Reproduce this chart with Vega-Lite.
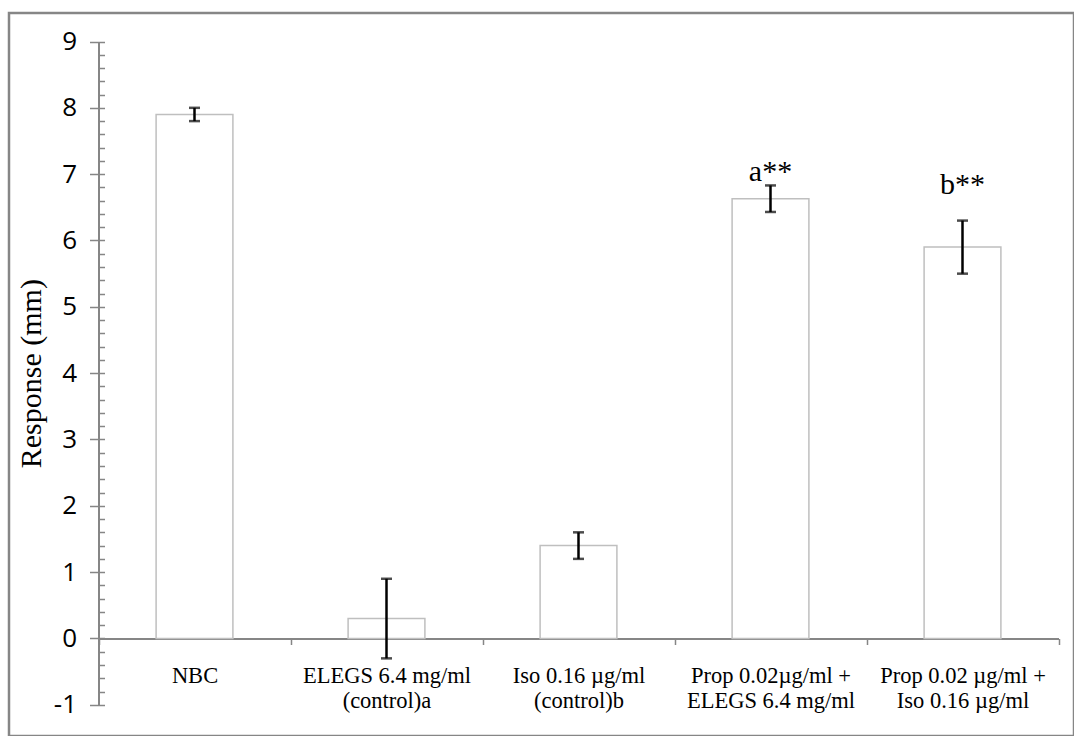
{
  "$schema": "https://vega.github.io/schema/vega-lite/v6.json",
  "autosize": {"type": "none"},
  "padding": {"left": 9, "top": 13, "right": 0, "bottom": 0},
  "width": 1065,
  "height": 723,
  "background": "white",
  "config": {"view": {"stroke": "#868686", "strokeWidth": 2.5}},
  "data": {
    "values": [
      {"group": "NBC", "mean": 7.9, "lo": 7.8, "hi": 8.0, "note": "", "note_y": null},
      {"group": "ELEGS 6.4 mg/ml|(control)a", "mean": 0.3, "lo": -0.3, "hi": 0.9, "note": "", "note_y": null},
      {"group": "Iso 0.16 µg/ml|(control)b", "mean": 1.4, "lo": 1.2, "hi": 1.6, "note": "", "note_y": null},
      {"group": "Prop 0.02µg/ml +|ELEGS 6.4 mg/ml", "mean": 6.63, "lo": 6.43, "hi": 6.83, "note": "a**", "note_y": 6.89},
      {"group": "Prop 0.02 µg/ml +|Iso 0.16 µg/ml", "mean": 5.9, "lo": 5.5, "hi": 6.3, "note": "b**", "note_y": 6.7}
    ]
  },
  "encoding": {
    "x": {
      "field": "group", "type": "nominal", "sort": null,
      "scale": {"range": [89.5, 1049.5], "paddingInner": 0, "paddingOuter": 0},
      "axis": {
        "title": null, "orient": "bottom", "offset": -97.5,
        "domainColor": "#868686", "domainWidth": 2,
        "tickBand": "extent", "tickSize": 6, "tickWidth": 1.5, "tickColor": "#868686",
        "labelExpr": "split(datum.label, '|')",
        "labelFont": "Liberation Serif", "labelFontSize": 22.5, "labelLineHeight": 25,
        "labelColor": "black", "labelAngle": 0, "labelAlign": "center", "labelBaseline": "top",
        "labelPadding": 20, "labelLimit": 400, "labelOverlap": false, "grid": false
      }
    }
  },
  "resolve": {"axis": {"y": "independent"}},
  "layer": [
    {
      "mark": {"type": "bar", "fill": "white", "stroke": "#bfbfbf", "strokeWidth": 1.5, "width": {"band": 0.4}},
      "encoding": {
        "y": {
          "field": "mean", "type": "quantitative",
          "scale": {"domain": [-1, 9], "range": [691.8, 28.5], "nice": false, "zero": false},
          "axis": {
            "orient": "left", "offset": -89.5,
            "values": [-1, 0, 1, 2, 3, 4, 5, 6, 7, 8, 9],
            "domainColor": "#868686", "domainWidth": 2,
            "tickSize": 9, "tickWidth": 1.5, "tickColor": "#868686",
            "labelExpr": "'' + datum.value",
            "labelFont": "Open Sans", "labelFontSize": 26, "labelColor": "black", "labelPadding": 13,
            "grid": false,
            "title": "Response (mm)", "titleFont": "Liberation Serif", "titleFontSize": 30,
            "titleFontWeight": "normal", "titleColor": "black",
            "titleX": -58.5, "titleBaseline": "alphabetic", "titleAngle": -90
          }
        }
      }
    },
    {
      "mark": {"type": "rule", "color": "black", "strokeWidth": 2.5},
      "encoding": {
        "y": {"field": "lo", "type": "quantitative", "axis": null},
        "y2": {"field": "hi"}
      }
    },
    {
      "mark": {"type": "tick", "color": "black", "size": 11, "thickness": 2.5},
      "encoding": {
        "y": {"field": "lo", "type": "quantitative", "axis": null}
      }
    },
    {
      "mark": {"type": "tick", "color": "black", "size": 11, "thickness": 2.5},
      "encoding": {
        "y": {
          "field": "hi", "type": "quantitative",
          "axis": {
            "orient": "left", "offset": -89.5, "domain": false, "labels": false, "grid": false, "title": null,
            "values": [-1, -0.8, -0.6, -0.4, -0.2, 0, 0.2, 0.4, 0.6, 0.8, 1, 1.2, 1.4, 1.6, 1.8, 2, 2.2, 2.4, 2.6, 2.8, 3, 3.2, 3.4, 3.6, 3.8, 4, 4.2, 4.4, 4.6, 4.8, 5, 5.2, 5.4, 5.6, 5.8, 6, 6.2, 6.4, 6.6, 6.8, 7, 7.2, 7.4, 7.6, 7.8, 8, 8.2, 8.4, 8.6, 8.8, 9],
            "tickSize": -6, "tickWidth": 1.5, "tickColor": "#868686"
          }
        }
      }
    },
    {
      "transform": [{"filter": "datum.note != ''"}],
      "mark": {"type": "text", "font": "Liberation Serif", "fontSize": 30, "color": "black", "align": "center", "baseline": "alphabetic"},
      "encoding": {
        "y": {"field": "note_y", "type": "quantitative", "axis": null},
        "text": {"field": "note", "type": "nominal"}
      }
    }
  ]
}
